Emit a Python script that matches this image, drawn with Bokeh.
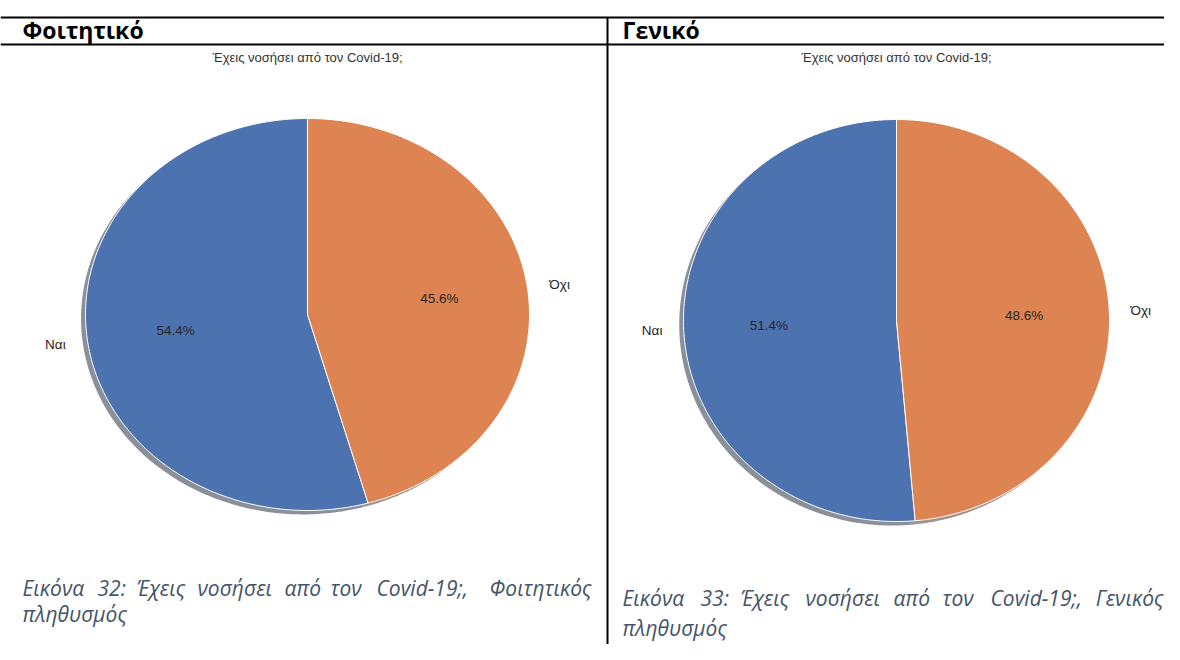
import numpy as np
from bokeh.plotting import figure
from bokeh.models import Range1d, ColumnDataSource
from bokeh.core.properties import value
from bokeh.embed import file_html
from bokeh.resources import INLINE

# ---------------- data ----------------
chart_title = "Έχεις νοσήσει από τον Covid-19;"
categories = ["Ναι", "Όχι"]
student_pct = [54.4, 45.6]
general_pct = [51.4, 48.6]
panel_titles = ["Φοιτητικό", "Γενικό"]
caption_student_l1 = ["Εικόνα", "32:", "Έχεις", "νοσήσει", "από", "τον", "Covid-19;,", "Φοιτητικός"]
caption_general_l1 = ["Εικόνα", "33:", "Έχεις", "νοσήσει", "από", "τον", "Covid-19;,", "Γενικός"]
caption_l2 = "πληθυσμός"
slice_colors = ["#4C72B0", "#DD8452"]

# ---------------- layout ----------------
W, H = 1164, 644
p = figure(width=W, height=H, x_range=Range1d(0, W), y_range=Range1d(H, 0),
           output_backend="svg", toolbar_location=None, min_border=0,
           x_axis_location=None, y_axis_location=None)
p.grid.visible = False
p.outline_line_color = None
p.background_fill_color = "white"
p.border_fill_color = "white"

panels = [
    dict(vals=student_pct, cx=307, cy=314, rx=222, ry=196, hx=22,
         words=caption_student_l1, wx=[22, 97, 136, 197, 284, 330, 376], wend=591,
         y1=587, y2=613, x2=22),
    dict(vals=general_pct, cx=896, cy=320, rx=213, ry=201, hx=622,
         words=caption_general_l1, wx=[622, 700, 740, 805, 893, 942, 990], wend=1163,
         y1=597, y2=627, x2=622),
]

# table borders
p.segment(x0=[0, 0, 607], y0=[17, 44, 17], x1=[1180, 1180, 607], y1=[17, 44, 660],
          line_color="black", line_width=2)

CAP_FONT = "21px"
LBL_FONT = "13.5px"


def shade(hexcol):
    r, g, b = (int(hexcol[i:i + 2], 16) for i in (1, 3, 5))
    c = [int(0.5 * 0.3 * v + 0.5 * 255) for v in (r, g, b)]
    return "#%02x%02x%02x" % tuple(c)


for k, pn in enumerate(panels):
    vals = np.array(pn["vals"], dtype=float)
    fr = vals / vals.sum()
    edges = 90 + 360 * np.concatenate([[0], np.cumsum(fr)])
    cx, cy, rx, ry = pn["cx"], pn["cy"], pn["rx"], pn["ry"]
    xs, ys, sxs, sys_ = [], [], [], []
    ox, oy = -0.02 * rx, 0.02 * ry
    for a0, a1 in zip(edges[:-1], edges[1:]):
        t = np.radians(np.linspace(a0, a1, 240))
        px = np.concatenate([[cx], cx + rx * np.cos(t)])
        py = np.concatenate([[cy], cy - ry * np.sin(t)])
        xs.append(px.tolist())
        ys.append(py.tolist())
        sxs.append((px + ox).tolist())
        sys_.append((py + oy).tolist())
    # shadow
    p.patches(xs=sxs, ys=sys_, fill_color=[shade(c) for c in slice_colors], line_color=None)
    # slices
    src = ColumnDataSource(dict(xs=xs, ys=ys, color=slice_colors, cat=categories))
    p.patches(xs="xs", ys="ys", fill_color="color", line_color="white", line_width=1, source=src)

    mids = np.radians((edges[:-1] + edges[1:]) / 2)
    lx = cx + 1.1 * rx * np.cos(mids)
    ly = cy - 1.1 * ry * np.sin(mids)
    align = ["right" if c < 0 else "left" for c in np.cos(mids)]
    p.text(x=lx.tolist(), y=ly.tolist(), text=categories, text_align=align,
           text_baseline="middle", text_font=value("Liberation Sans"),
           text_font_size=LBL_FONT, text_color="#262626")
    px_ = cx + 0.6 * rx * np.cos(mids)
    py_ = cy - 0.6 * ry * np.sin(mids)
    p.text(x=px_.tolist(), y=py_.tolist(), text=["%.1f%%" % v for v in vals],
           text_align="center", text_baseline="middle", text_font=value("Liberation Sans"),
           text_font_size=LBL_FONT, text_color="#262626")
    # chart title
    p.text(x=[cx], y=[57], text=[chart_title], text_align="center", text_baseline="middle",
           text_font=value("Liberation Sans"), text_font_size="13px", text_color="#333333")
    # header
    p.text(x=[pn["hx"]], y=[29], text=[panel_titles[k]], text_align="left",
           text_baseline="middle", text_font=value("Open Sans"), text_font_size="23px",
           text_font_style="bold", text_color="black")
    # caption (justified line 1)
    words = pn["words"]
    p.text(x=pn["wx"], y=[pn["y1"]] * len(pn["wx"]), text=words[:-1], text_align="left",
           text_baseline="middle", text_font=value("Open Sans"), text_font_size=CAP_FONT,
           text_font_style="italic", text_color="#44546A")
    p.text(x=[pn["wend"]], y=[pn["y1"]], text=[words[-1]], text_align="right",
           text_baseline="middle", text_font=value("Open Sans"), text_font_size=CAP_FONT,
           text_font_style="italic", text_color="#44546A")
    p.text(x=[pn["x2"]], y=[pn["y2"]], text=[caption_l2], text_align="left",
           text_baseline="middle", text_font=value("Open Sans"), text_font_size=CAP_FONT,
           text_font_style="italic", text_color="#44546A")

open("out.html", "w").write(file_html(p, INLINE))
